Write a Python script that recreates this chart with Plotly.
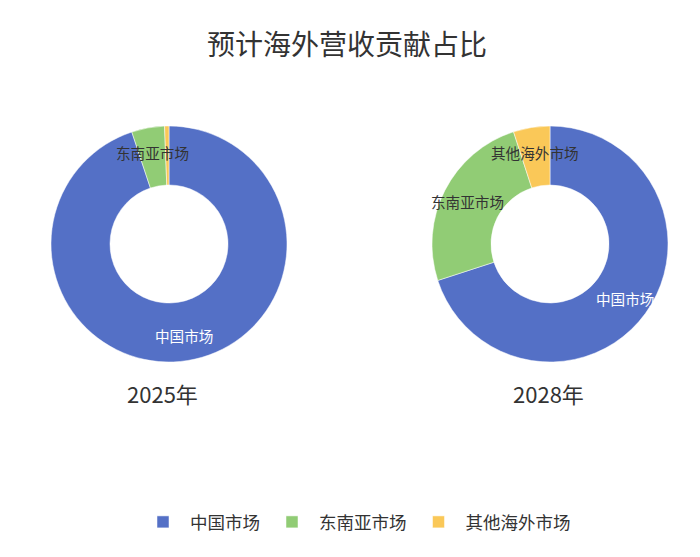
import math
import plotly.graph_objects as go

categories = ["中国市场", "东南亚市场", "其他海外市场"]
values_2025 = [94.9, 4.5, 0.6]
values_2028 = [70, 25, 5]
labels_2025 = ["中国市场", "东南亚市场", ""]
labels_2028 = ["中国市场", "东南亚市场", "其他海外市场"]
years = ["2025年", "2028年"]
colors = ["#5470c6", "#91cc75", "#fac858"]
label_colors = ["#ffffff", "#333333", "#333333"]
title = "预计海外营收贡献占比"

W, H = 700, 557
OFF = 8  # page body margin compensation
FONT = "Noto Sans CJK SC"
R_OUT = 118
HOLE = 0.5
R_LABEL = 93


def px(x):
    return (x - OFF) / W


def py(y):
    return 1 - (y - OFF) / H


def dom(cx, cy, r):
    return dict(x=[px(cx - r), px(cx + r)], y=[py(cy + r), py(cy - r)])


fig = go.Figure()
centers = [(169, 244), (550, 244)]
for i, (vals, txt, (cx, cy)) in enumerate([
    (values_2025, labels_2025, centers[0]),
    (values_2028, labels_2028, centers[1]),
]):
    fig.add_trace(go.Pie(
        labels=categories,
        values=vals,
        textinfo="none",
        hole=HOLE,
        sort=False,
        direction="clockwise",
        rotation=0,
        marker=dict(colors=colors, line=dict(color="#ffffff", width=0.5)),
        domain=dom(cx, cy, R_OUT),
        showlegend=(i == 0),
        hoverinfo="label+percent",
    ))
    # inside labels at the middle angle of each slice
    total = sum(vals)
    cum = 0.0
    for v, t, c in zip(vals, txt, label_colors):
        mid = (cum + v / 2) / total * 2 * math.pi
        cum += v
        if not t:
            continue
        lx = cx + R_LABEL * math.sin(mid)
        ly = cy - R_LABEL * math.cos(mid)
        fig.add_annotation(text=t, x=px(lx), y=py(ly), xref="paper", yref="paper",
                           xanchor="center", yanchor="middle", showarrow=False,
                           font=dict(family=FONT, size=14.6, color=c))

for yr, cx in zip(years, [162, 548]):
    fig.add_annotation(text=yr, x=px(cx), y=py(393), xref="paper", yref="paper",
                       xanchor="center", yanchor="middle", showarrow=False,
                       font=dict(family=FONT, size=22, color="#333333"))

fig.update_layout(
    width=W, height=H,
    margin=dict(l=0, r=0, t=0, b=0),
    paper_bgcolor="#ffffff",
    plot_bgcolor="#ffffff",
    font=dict(family=FONT, color="#333333"),
    title=dict(text=title, x=px(347), xanchor="center", y=py(45), yanchor="middle",
               font=dict(family=FONT, size=28, color="#333333")),
    legend=dict(orientation="h", x=px(136), xanchor="left", y=py(522), yanchor="middle",
                font=dict(family=FONT, size=17.5, color="#333333"), itemwidth=44,
                traceorder="normal"),
)

fig.write_html("out.html")
